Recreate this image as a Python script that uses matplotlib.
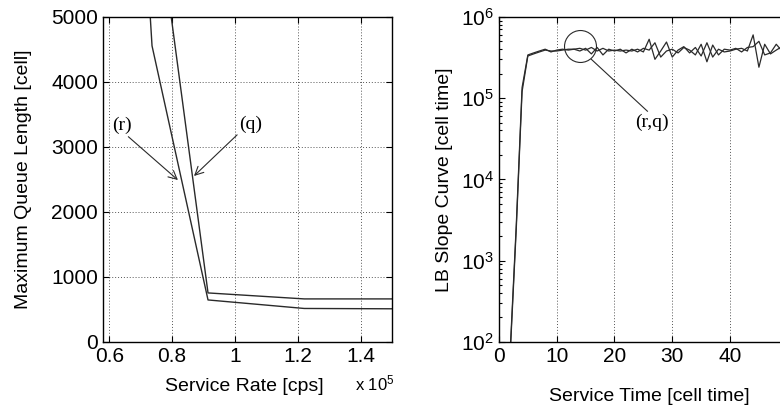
"""Maximum queue length vs. service rate, and LB slope curve vs. service time."""

import matplotlib.pyplot as plt
import numpy as np
from matplotlib.ticker import FuncFormatter, LogLocator, NullFormatter

plt.rcParams.update(
    {
        "font.family": "sans-serif",
        "font.sans-serif": ["Liberation Sans", "DejaVu Sans"],
        "font.size": 14,
        "mathtext.fontset": "custom",
        "mathtext.rm": "Liberation Sans",
    }
)

LINE_COLOR = "#2a2a2a"
SERIF = "Liberation Serif"

# Maximum queue length [cell] against service rate [cps]
RATE_Q = [73000, 91400, 122000, 150000]
QUEUE_Q = [7430, 754, 662, 662]
RATE_R = [70000, 73600, 91400, 122000, 150000]
QUEUE_R = [7400, 4554, 646, 515, 510]

# LB slope curve [cell time] against service time [cell time]
SERVICE_TIME = np.arange(1, 51)
SLOPE_Q = np.array([
    1e-4, 9.5e-4, 0.028, 1.35, 3.4, 3.6, 3.8, 4.0, 3.7, 3.9,
    4.0, 3.9, 4.0, 4.1, 3.9, 4.2, 3.8, 4.1, 3.8, 3.9,
    3.8, 3.9, 3.8, 4.0, 3.7, 5.3, 3.0, 3.8, 4.9, 3.2,
    3.9, 4.3, 3.6, 4.2, 3.3, 4.8, 3.2, 4.0, 3.7, 3.8,
    4.0, 4.1, 3.8, 6.0, 2.4, 4.6, 3.5, 3.9, 4.3, 4.0,
]) * 1e5
SLOPE_R = np.array([
    1e-4, 8.5e-4, 0.025, 1.2, 3.3, 3.5, 3.7, 3.9, 3.8, 3.8,
    3.9, 4.0, 4.0, 3.8, 4.1, 3.5, 4.2, 3.4, 4.0, 3.8,
    4.0, 3.6, 4.0, 3.7, 4.1, 3.9, 4.8, 3.2, 3.8, 4.0,
    3.6, 4.2, 3.9, 3.4, 4.6, 2.8, 4.5, 3.4, 4.0, 3.9,
    4.1, 3.7, 4.2, 4.3, 5.0, 3.4, 3.6, 4.6, 3.8, 4.1,
]) * 1e5


def style_axes(ax):
    ax.tick_params(direction="in", which="both", top=True, right=True,
                   labelsize=15, length=4, width=0.8, colors="black")
    ax.tick_params(which="minor", length=2.5)
    for spine in ax.spines.values():
        spine.set_linewidth(1.0)


fig = plt.figure(figsize=(7.8, 4.11), dpi=100)

# Left panel
ax1 = fig.add_axes([0.132, 0.168, 0.371, 0.791])
ax1.plot(RATE_Q, QUEUE_Q, color=LINE_COLOR, lw=1.0)
ax1.plot(RATE_R, QUEUE_R, color=LINE_COLOR, lw=1.0)
ax1.set_xlim(58000, 150000)
ax1.set_ylim(0, 5000)
ax1.set_xticks([60000, 80000, 100000, 120000, 140000])
ax1.set_yticks([0, 1000, 2000, 3000, 4000, 5000])
ax1.xaxis.set_major_formatter(FuncFormatter(lambda v, _: f"{v / 1e5:g}"))
ax1.grid(True, linestyle=(0, (1, 2)), color="#555555", lw=0.7)
style_axes(ax1)
ax1.set_ylabel("Maximum Queue Length [cell]", fontsize=14)
ax1.yaxis.set_label_coords(-0.245, 0.5)
ax1.set_xlabel("Service Rate [cps]", fontsize=14)
ax1.xaxis.set_label_coords(0.489, -0.111)
ax1.text(0.870, -0.129, r"x 10$^5$", transform=ax1.transAxes, fontsize=12,
         ha="left", va="center")

arrow = dict(arrowstyle="->", lw=0.8, color=LINE_COLOR, mutation_scale=15)
ax1.annotate("", xy=(82500, 2462), xytext=(65400, 3185), arrowprops=arrow)
ax1.text(64100, 3338, "(r)", family=SERIF, fontsize=14, ha="center", va="center")
ax1.annotate("", xy=(86300, 2523), xytext=(101300, 3215), arrowprops=arrow)
ax1.text(104800, 3354, "(q)", family=SERIF, fontsize=14, ha="center", va="center")

# Right panel
ax2 = fig.add_axes([0.6397, 0.168, 0.3703, 0.791])
ax2.semilogy(SERVICE_TIME, SLOPE_Q, color=LINE_COLOR, lw=0.9)
ax2.semilogy(SERVICE_TIME, SLOPE_R, color=LINE_COLOR, lw=0.9)
ax2.set_xlim(0, 50)
ax2.set_ylim(1e2, 1e6)
ax2.set_xticks([0, 10, 20, 30, 40])
ax2.yaxis.set_minor_locator(LogLocator(base=10, subs=np.arange(2, 10)))
ax2.yaxis.set_minor_formatter(NullFormatter())
ax2.grid(True, axis="x", linestyle=(0, (1, 2)), color="#555555", lw=0.7)
style_axes(ax2)
ax2.set_ylabel("LB Slope Curve [cell time]", fontsize=14)
ax2.yaxis.set_label_coords(-0.16, 0.5)
ax2.set_xlabel("Service Time [cell time]", fontsize=14)
ax2.xaxis.set_label_coords(0.519, -0.1415)

ax2.plot([14.0], [4.37e5], marker="o", markersize=23, markerfacecolor="none",
         markeredgecolor=LINE_COLOR, markeredgewidth=0.8)
ax2.plot([16.0, 25.7], [3.0e5, 6.9e4], color=LINE_COLOR, lw=0.8)
ax2.text(26.5, 5.0e4, "(r,q)", family=SERIF, fontsize=14, ha="center", va="center")

fig.savefig("out.png", dpi=100)
